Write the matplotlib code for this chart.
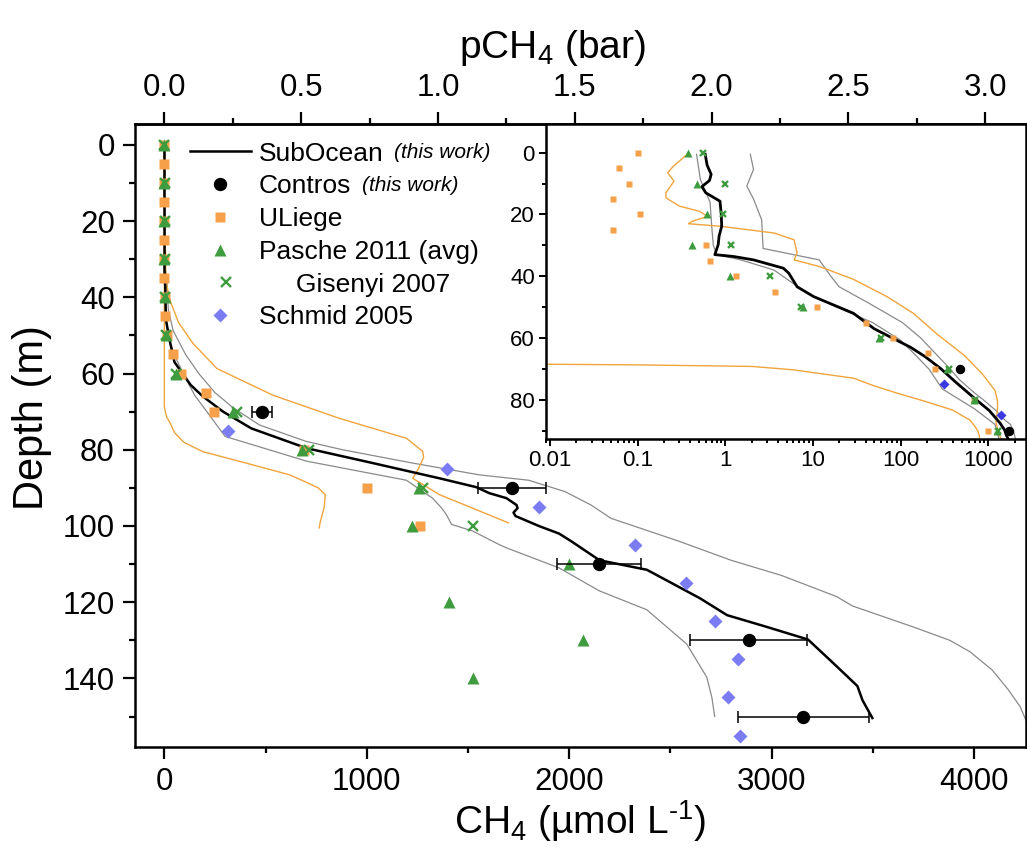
import numpy as np
import matplotlib
matplotlib.use('Agg')
import matplotlib.pyplot as plt
from matplotlib.ticker import MultipleLocator, LogLocator, FuncFormatter, NullFormatter
from matplotlib.legend_handler import HandlerLine2D

plt.rcParams['font.family'] = ['Liberation Sans', 'DejaVu Sans']
plt.rcParams['mathtext.fontset'] = 'custom'
plt.rcParams['mathtext.rm'] = 'Liberation Sans'
plt.rcParams['mathtext.it'] = 'Liberation Sans:italic'

# conversion used for the top axis (umol/L per bar)
UMOL_PER_BAR = 1352.0

# SubOcean profile (black) and its bounds (grey)
sub_depth = [0.5, 4, 7, 9, 11, 13, 15.7, 20, 23.8, 27, 29.8, 33, 33.6, 34.7, 37.4, 39, 43.4, 46.6,
             52, 57, 63, 66, 70, 74.4, 79.6, 83.5, 87.5, 89.8, 91.4, 92.7, 94.5, 95.3, 96.5, 97.4,
             100, 102, 104, 109, 111.5, 116, 119, 123.4, 126.5, 129.8, 136, 142, 145.7, 150.4]
sub_val = [0.59, 0.62, 0.69, 0.66, 0.54, 0.6, 0.87, 0.9, 0.91, 0.85, 0.83, 0.76, 1.24, 2.1, 4.6, 5.3, 6.6, 10.2,
           29, 50, 130, 190, 290, 430, 703, 1030, 1360, 1540, 1606, 1690, 1740, 1745, 1725, 1735,
           1850, 1950, 2010, 2150, 2384, 2542, 2647, 2780, 2977, 3180, 3305, 3424, 3449, 3498]

hi_depth = [0.5, 5.4, 10.8, 15, 21.7, 31, 32.5, 34.7, 40, 43.4, 48.8, 55, 60, 65, 69, 73.5, 77.8, 80,
            83.5, 86.6, 88, 91, 94.5, 98, 104, 109, 113, 118.5, 121, 126.5, 130, 133, 137.8, 143,
            147.4, 151, 153]
hi_val = [1.93, 2.1, 1.76, 2.1, 2.6, 2.7, 4.9, 11.8, 16, 19.9, 44, 105, 170, 250, 340, 470, 700, 880,
          1227, 1557, 1800, 1980, 2108, 2207, 2542, 2800, 3050, 3320, 3400, 3700, 3880, 3980, 4090, 4170,
          4228, 4257, 4300]

lo_depth = [0.5, 8.7, 16, 23.8, 30, 33, 34.7, 38, 41, 45.5, 50, 55, 60.7, 65.7, 70, 76.5, 83, 88, 90,
            92.7, 95.3, 97, 99.6, 101.3, 104.9, 105.7, 111, 117, 122, 131, 139.7, 145, 150]
lo_val = [0.47, 0.52, 0.67, 0.70, 0.73, 0.8, 1.5, 3.6, 5.1, 8.6, 18.7, 48, 100, 150, 210, 300, 703, 1196, 1250,
          1325, 1370, 1393, 1419, 1522, 1655, 1688, 1950, 2148, 2384, 2581, 2680, 2705, 2719]

# model envelopes (orange)
orA_depth = [0, 67.5, 68.5, 68.7, 69.2, 70.3, 71.5, 73, 75.5, 78, 80.5, 83.3, 86.6, 88.5, 90, 91.8, 95, 99, 100.5]
orA_val = [0.001, 0.001, 0.01, 0.1, 2.0, 6, 12, 29, 50, 95, 190, 390, 620, 700, 760, 795, 790, 770, 765]

orB_depth = [0.5, 4.3, 6.5, 9.2, 13, 14.6, 17.3, 19, 20.6, 22.2, 23, 23.8, 26, 28.2, 32.5, 34.7, 36.9, 41,
             46.6, 52, 58.7, 65.7, 71.8, 77, 80.4, 82, 85, 87.5, 91.8, 95.3, 99.2]
orB_val = [0.37, 0.257, 0.22, 0.26, 0.21, 0.21, 0.30, 0.51, 0.63, 0.42, 0.38, 0.87, 3.6, 6.1, 6.6, 6.1, 12, 29,
           70, 140, 260, 537, 867, 1196, 1276, 1281, 1255, 1227, 1360, 1522, 1700]

# discrete measurements
contros_depth = [70, 90, 110, 130, 150]
contros_val = [481, 1719, 2148, 2887, 3157]
contros_err = [50, 168, 207, 288, 322]

uliege_depth = [0, 5, 10, 15, 20, 25, 30, 35, 40, 45, 50, 55, 60, 65, 70, 80, 90, 100]
uliege_val = [0.1, 0.062, 0.079, 0.053, 0.107, 0.052, 0.61, 0.67, 1.34, 3.66, 11.2, 40.5, 83, 205, 245,
              690, 1000, 1265]

pasche_depth = [0, 10, 20, 30, 40, 50, 60, 70, 80, 90, 100, 110, 120, 130, 140]
pasche_val = [0.38, 0.47, 0.62, 0.42, 1.12, 7.7, 57, 340, 680, 1256, 1225, 2000, 1404, 2069, 1527]

gisenyi_depth = [0, 10, 20, 30, 40, 50, 60, 70, 80, 90, 100]
gisenyi_val = [0.556, 1.0, 0.95, 1.16, 3.27, 7.3, 60, 360, 715, 1280, 1527]

schmid_depth = [75, 85, 95, 105, 115, 125, 135, 145, 155]
schmid_val = [316, 1394, 1852, 2325, 2576, 2719, 2832, 2783, 2843]

ORANGE_LINE = '#f0a43c'
ORANGE_SQ = '#f7a04a'
GREEN = '#3e9b3e'
GREY = '#8a8a8a'


class ShiftedHandler(HandlerLine2D):
    def __init__(self, shift, **kw):
        super().__init__(**kw)
        self.shift = shift

    def create_artists(self, legend, orig_handle, xdescent, ydescent, width, height, fontsize, trans):
        return super().create_artists(legend, orig_handle, xdescent - self.shift, ydescent,
                                      width, height, fontsize, trans)


def draw_all(ax, small=False):
    lw_b = 2.0 if small else 1.8
    ax.plot(lo_val, lo_depth, color=GREY, lw=0.9)
    ax.plot(hi_val, hi_depth, color=GREY, lw=0.9)
    ax.plot(orA_val, orA_depth, color=ORANGE_LINE, lw=1.0)
    ax.plot(orB_val, orB_depth, color=ORANGE_LINE, lw=1.0)
    sub, = ax.plot(sub_val, sub_depth, color='black', lw=lw_b, label='SubOcean')
    k = 0.68 if small else 1.0
    sq, = ax.plot(uliege_val, uliege_depth, 's', color=ORANGE_SQ, ms=6.6 * k, mec='none', label='ULiege')
    tr, = ax.plot(pasche_val, pasche_depth, '^', color=GREEN, ms=8.2 * k, mec='none', label='Pasche 2011 (avg)')
    gx, = ax.plot(gisenyi_val, gisenyi_depth, 'x', color=GREEN, ms=7.0 * k, mew=1.7,
                  label='     Gisenyi 2007')
    dm, = ax.plot(schmid_val, schmid_depth, 'D', color='#3a3ae0' if small else '#7b7bf2',
                  ms=6.8 * k, mec='none', label='Schmid 2005')
    if not small:
        ax.errorbar(contros_val, contros_depth, xerr=contros_err, fmt='none', ecolor='black',
                    elinewidth=1.1, capsize=4, capthick=1.1)
    ct, = ax.plot(contros_val, contros_depth, 'o', color='black', ms=(5.8 if small else 8.6),
                  label='Contros')
    return [sub, ct, sq, tr, gx, dm]


fig = plt.figure(figsize=(10.27, 8.56), dpi=100)
ax = fig.add_axes([135 / 1027, 1 - 747 / 856, 891 / 1027, (747 - 124.3) / 856])
AX_H = 747 - 124.3

handles = draw_all(ax)
ax.set_xlim(-145, 4257)
ax.set_ylim(158, -5.4)

ax.xaxis.set_major_locator(MultipleLocator(1000))
ax.xaxis.set_minor_locator(MultipleLocator(500))
ax.yaxis.set_major_locator(MultipleLocator(20))
ax.yaxis.set_minor_locator(MultipleLocator(10))
ax.tick_params(which='both', direction='out', labelsize=22.5, width=1.6, top=False, right=False)
ax.tick_params(which='major', length=8.5, pad=6)
ax.tick_params(which='minor', length=4.5)
for s in ax.spines.values():
    s.set_linewidth(1.8)

ax.set_xlabel('CH$_{4}$ (µmol L$^{\\mathregular{\u20101}}$)', fontsize=28, labelpad=1)
ax.set_ylabel('Depth (m)', fontsize=30)
ax.yaxis.set_label_coords(-83 / 891, (747 - 418) / AX_H)

top = ax.secondary_xaxis('top', functions=(lambda x: x / UMOL_PER_BAR, lambda b: b * UMOL_PER_BAR))
top.xaxis.set_major_locator(MultipleLocator(0.5))
top.xaxis.set_minor_locator(MultipleLocator(0.25))
top.xaxis.set_major_formatter(FuncFormatter(lambda v, p: f'{v:.1f}'))
top.tick_params(which='both', direction='out', labelsize=22.5, width=1.6)
top.tick_params(which='major', length=8.5, pad=7)
top.tick_params(which='minor', length=4.5)
top.spines['top'].set_linewidth(1.8)
top.set_xlabel('pCH$_{4}$ (bar)', fontsize=28)
top.xaxis.set_label_coords(0.468, (747 - 58) / AX_H, transform=ax.transAxes)

leg = ax.legend(handles=handles, loc='upper left', bbox_to_anchor=(0.0617, 0.972),
                frameon=False, fontsize=19, handlelength=2.3, handletextpad=0.3,
                labelspacing=0.33, borderpad=0, borderaxespad=0, numpoints=1,
                handler_map={handles[4]: ShiftedHandler(4)})
texts = leg.get_texts()
for i in (0, 1):
    ax.annotate('(this work)', xy=(1, 0), xycoords=texts[i], xytext=(8, 2.5),
                textcoords='offset points', ha='left', va='bottom', fontsize=15, style='italic',
                zorder=20)

# inset: same data on a log axis
ins = fig.add_axes([546 / 1027, 1 - 439 / 856, 480 / 1027, (439 - 124.3) / 856])
draw_all(ins, small=True)
ins.set_xscale('log')
ins.set_xlim(0.009, 2700)
ins.set_ylim(92.7, -9.2)
ins.xaxis.set_major_locator(LogLocator(base=10, numticks=12))
ins.xaxis.set_minor_locator(LogLocator(base=10, subs=np.arange(2, 10), numticks=12))
ins.xaxis.set_major_formatter(FuncFormatter(lambda v, p: f'{v:g}'))
ins.xaxis.set_minor_formatter(NullFormatter())
ins.yaxis.set_major_locator(MultipleLocator(20))
ins.yaxis.set_minor_locator(MultipleLocator(10))
ins.tick_params(which='both', direction='out', labelsize=16, width=1.4, top=False, right=False)
ins.tick_params(which='major', length=5, pad=3)
ins.tick_params(which='minor', length=3)
for s in ins.spines.values():
    s.set_linewidth(1.8)

fig.savefig('out.png', dpi=100)
